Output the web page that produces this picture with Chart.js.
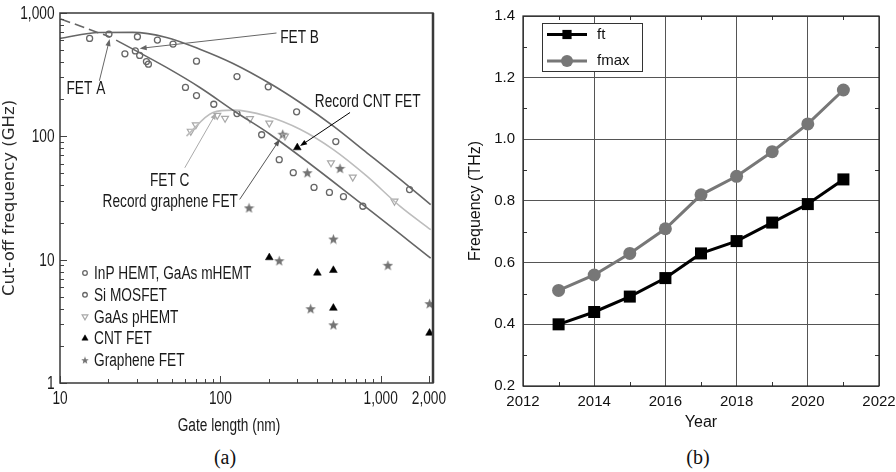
<!DOCTYPE html>
<html>
<head>
<meta charset="utf-8">
<script src="https://cdn.jsdelivr.net/npm/chart.js@4.4.1/dist/chart.umd.min.js"></script>
<style>
body { margin: 0; background: #fff; }
#wrap { position: relative; width: 896px; height: 472px; overflow: hidden; background: #fff; }
#wrap canvas { position: absolute; top: 0; }
.cap { position: absolute; top: 446px; width: 60px; text-align: center; font: 20px 'Liberation Serif', serif; color: #111; }
</style>
</head>
<body>
<div id="wrap">
  <canvas id="chartA" width="448" height="440" style="left:0"></canvas>
  <canvas id="chartB" width="448" height="440" style="left:448px"></canvas>
  <div class="cap" style="left:195px">(a)</div>
  <div class="cap" style="left:668px">(b)</div>
</div>
<script>
// the left panel uses a condensed face; no narrow font is installed, so text is squeezed by hand
const NARROW_FONT = "18px 'Liberation Sans', Arial, sans-serif";
const SQUEEZE = 0.76;
const SANS = "'Liberation Sans', Arial, sans-serif";

// ---------- (a) cut-off frequency vs gate length ----------
const inpX = [15.3, 20.2, 30.4, 40.5, 50.7, 71, 127, 199, 299, 525, 1514];
const inpY = [622, 675, 642, 603, 560, 407, 305, 252, 158, 90.6, 37];
const siX = [25.4, 29.5, 31.4, 34.6, 35.6, 60.6, 71, 91, 127, 181, 233, 285, 384, 479, 586, 774];
const siY = [467, 493, 453, 404, 385, 249, 214, 182, 153, 103, 64.7, 50.7, 38.5, 35.1, 32.4, 27.1];
const gaasX = [65.4, 70.3, 95.7, 107, 153, 202, 253, 490, 670, 1219];
const gaasY = [110, 124, 148, 140, 139, 128, 100.5, 61, 46.7, 29.8];
const cntX = [202, 302, 403, 507, 507, 2018];
const cntY = [10.4, 81, 7.8, 8.2, 4.05, 2.54];
const grX = [151, 245, 233, 349, 558, 507, 366, 507, 1109, 2018];
const grY = [26.3, 104, 9.8, 50.7, 55, 14.7, 4.0, 2.96, 9.0, 4.4];

// trend curves
const upperX = [10, 17.6, 28.4, 46.1, 74.5, 120, 204, 314, 507, 820, 1324, 2050];
const upperY = [622, 695, 697, 634, 509, 390, 268, 188, 121, 73.6, 44.7, 28];
const lowerDashX = [10.1, 20.5];
const lowerDashY = [894, 640];
const lowerX = [22.4, 46.1, 74.5, 126, 204, 820, 2050];
const lowerY = [603, 362, 249, 156, 104, 26.3, 10.3];
const gaasCurveX = [61.5, 90, 120, 194, 314, 507, 820, 1324, 2050];
const gaasCurveY = [100.5, 156, 163, 146, 114, 78, 47.5, 27, 17.5];

const xMajorTicks = [10, 100, 1000, 2000];
const xMajorLabels = ['10', '100', '1,000', '2,000'];
const yMajorTicks = [1, 10, 100, 1000];
const yMajorLabels = ['1', '10', '100', '1,000'];
const xTitleA = 'Gate length (nm)';

// annotations (data units)
const noteLabels = ['FET A', 'FET B', 'FET C', 'Record graphene FET', 'Record CNT FET'];
const noteTextX = [14.5, 312, 48.3, 48.7, 830];
const noteTextY = [241, 632, 43.5, 29.3, 190];
const noteFromX = [17.6, 224, 60, 132, 644];
const noteFromY = [282, 688, 55.6, 30.8, 156];
const noteToX = [20.4, 31.4, 94.6, 235, 314];
const noteToY = [615, 516, 156, 94.6, 83.4];
const noteColors = ['#666', '#666', '#aaa', '#555', '#000'];

// ---------- (b) ft / fmax by year ----------
const years = [2013, 2014, 2015, 2016, 2017, 2018, 2019, 2020, 2021];
const ft = [0.40, 0.44, 0.49, 0.55, 0.63, 0.67, 0.73, 0.79, 0.87];
const fmax = [0.51, 0.56, 0.63, 0.71, 0.82, 0.88, 0.96, 1.05, 1.16];
const xTicksB = [2012, 2014, 2016, 2018, 2020, 2022];
const xLabelsB = ['2012', '2014', '2016', '2018', '2020', '2022'];
const xMinorB = [2013, 2015, 2017, 2019, 2021];
const yTicksB = [0.2, 0.4, 0.6, 0.8, 1.0, 1.2, 1.4];
const yLabelsB = ['0.2', '0.4', '0.6', '0.8', '1.0', '1.2', '1.4'];
const yMinorB = [0.3, 0.5, 0.7, 0.9, 1.1, 1.3];

const pts = (xs, ys) => xs.map((x, i) => ({ x: x, y: ys[i] }));

function makeStar(size, color) {
  const c = document.createElement('canvas');
  c.width = size; c.height = size;
  const g = c.getContext('2d');
  const r = size / 2, ri = r * 0.42;
  g.beginPath();
  for (let k = 0; k < 10; k++) {
    const rad = k % 2 === 0 ? r : ri;
    const a = -Math.PI / 2 + k * Math.PI / 5;
    g.lineTo(r + rad * Math.cos(a), r * 1.08 + rad * Math.sin(a));
  }
  g.closePath();
  g.fillStyle = color;
  g.fill();
  return c;
}
const starImg = makeStar(11, '#737373');
const starSmall = makeStar(8, '#737373');

function curve(data, color, dash) {
  return {
    data: data, showLine: true, pointRadius: 0, borderColor: color, borderWidth: 1.6,
    borderDash: dash || [], cubicInterpolationMode: 'monotone', fill: false, legend: false
  };
}

function arrow(ctx, x1, y1, x2, y2, color) {
  const ang = Math.atan2(y2 - y1, x2 - x1);
  ctx.strokeStyle = color; ctx.fillStyle = color; ctx.lineWidth = 1;
  ctx.beginPath(); ctx.moveTo(x1, y1); ctx.lineTo(x2 - 3 * Math.cos(ang), y2 - 3 * Math.sin(ang)); ctx.stroke();
  ctx.beginPath();
  ctx.moveTo(x2, y2);
  ctx.lineTo(x2 - 7 * Math.cos(ang) + 2.6 * Math.sin(ang), y2 - 7 * Math.sin(ang) - 2.6 * Math.cos(ang));
  ctx.lineTo(x2 - 7 * Math.cos(ang) - 2.6 * Math.sin(ang), y2 - 7 * Math.sin(ang) + 2.6 * Math.cos(ang));
  ctx.closePath(); ctx.fill();
}

function narrowText(ctx, txt, x, y, align) {
  ctx.save();
  ctx.translate(x, y);
  ctx.scale(SQUEEZE, 1);
  ctx.font = NARROW_FONT;
  ctx.textAlign = align;
  ctx.textBaseline = 'middle';
  ctx.fillStyle = '#1a1a1a';
  ctx.fillText(txt, 0, 0);
  ctx.restore();
}

const isDecadeTick = v => {
  const e = Math.floor(Math.log10(v) + 1e-9);
  const s = v / Math.pow(10, e);
  return Math.abs(s - Math.round(s)) < 1e-6;
};

const decorA = {
  id: 'decorA',
  afterDatasetsDraw(chart) {
    const { ctx, chartArea: a, scales: { x, y } } = chart;
    ctx.save();
    // inward ticks
    ctx.strokeStyle = '#444'; ctx.lineWidth = 1;
    x.ticks.forEach(t => {
      if (!isDecadeTick(t.value)) return;
      const px = Math.round(x.getPixelForValue(t.value)) + 0.5;
      const len = xMajorTicks.includes(t.value) ? 7 : 4;
      ctx.beginPath(); ctx.moveTo(px, a.bottom); ctx.lineTo(px, a.bottom - len); ctx.stroke();
    });
    y.ticks.forEach(t => {
      if (!isDecadeTick(t.value)) return;
      const py = Math.round(y.getPixelForValue(t.value)) + 0.5;
      const len = yMajorTicks.includes(t.value) ? 7 : 4;
      ctx.beginPath(); ctx.moveTo(a.left, py); ctx.lineTo(a.left + len, py); ctx.stroke();
    });
    // frame
    ctx.strokeStyle = '#3a3a3a'; ctx.lineWidth = 1.5;
    ctx.strokeRect(a.left, a.top, a.right - a.left, a.bottom - a.top);
    ctx.lineWidth = 2.5;
    ctx.beginPath(); ctx.moveTo(a.right, a.top); ctx.lineTo(a.right, a.bottom); ctx.stroke();

    // tick labels
    xMajorTicks.forEach((v, i) => narrowText(ctx, xMajorLabels[i], x.getPixelForValue(v), a.bottom + 16, 'center'));
    yMajorTicks.forEach((v, i) => narrowText(ctx, yMajorLabels[i], a.left - 5.5, y.getPixelForValue(v) + 1, 'right'));

    // annotations
    noteLabels.forEach((txt, i) => {
      arrow(ctx, x.getPixelForValue(noteFromX[i]), y.getPixelForValue(noteFromY[i]),
        x.getPixelForValue(noteToX[i]), y.getPixelForValue(noteToY[i]), noteColors[i]);
      narrowText(ctx, txt, x.getPixelForValue(noteTextX[i]), y.getPixelForValue(noteTextY[i]), 'center');
    });

    // legend
    const items = chart.data.datasets.filter(d => d.legend);
    items.forEach((d, i) => {
      const ly = 273 + i * 21.8;
      ctx.fillStyle = d.legendFill; ctx.strokeStyle = d.pointBorderColor;
      ctx.lineWidth = d.pointBorderWidth;
      Chart.helpers.drawPoint(ctx, {
        pointStyle: d.pointStyle === starImg ? starSmall : d.pointStyle,
        radius: d.legendRadius, rotation: d.pointRotation || 0, borderWidth: d.pointBorderWidth
      }, 85, ly);
      narrowText(ctx, d.label, 94, ly + 1, 'left');
    });

    // x title
    narrowText(ctx, xTitleA, 229, 426, 'center');
    ctx.restore();
  }
};

new Chart(document.getElementById('chartA'), {
  type: 'scatter',
  data: {
    datasets: [
      curve(pts(upperX, upperY), '#666'),
      curve(pts(lowerDashX, lowerDashY), '#666', [10, 5]),
      curve(pts(lowerX, lowerY), '#666'),
      curve(pts(gaasCurveX, gaasCurveY), '#bdbdbd'),
      { label: 'InP HEMT, GaAs mHEMT', data: pts(inpX, inpY), legend: true, pointStyle: 'circle', pointRadius: 3,
        pointBorderColor: '#666', pointBackgroundColor: 'rgba(0,0,0,0)', pointBorderWidth: 1.3,
        legendFill: 'rgba(0,0,0,0)', legendRadius: 2.3 },
      { label: 'Si MOSFET', data: pts(siX, siY), legend: true, pointStyle: 'circle', pointRadius: 3,
        pointBorderColor: '#666', pointBackgroundColor: 'rgba(0,0,0,0)', pointBorderWidth: 1.3,
        legendFill: 'rgba(0,0,0,0)', legendRadius: 2.3 },
      { label: 'GaAs pHEMT', data: pts(gaasX, gaasY), legend: true, pointStyle: 'triangle', pointRotation: 180,
        pointRadius: 4, pointBorderColor: '#a8a8a8', pointBackgroundColor: 'rgba(0,0,0,0)', pointBorderWidth: 1.2,
        legendFill: 'rgba(0,0,0,0)', legendRadius: 3.3 },
      { label: 'CNT FET', data: pts(cntX, cntY), legend: true, pointStyle: 'triangle', pointRadius: 4.5,
        pointBorderColor: '#000', pointBackgroundColor: '#000', pointBorderWidth: 0.5,
        legendFill: '#000', legendRadius: 3.6 },
      { label: 'Graphene FET', data: pts(grX, grY), legend: true, pointStyle: starImg, pointRadius: 5,
        pointBorderColor: '#737373', pointBackgroundColor: '#737373', pointBorderWidth: 0,
        legendFill: '#737373', legendRadius: 4 }
    ]
  },
  options: {
    responsive: false, animation: false, events: [],
    layout: { padding: { top: 13, right: 15, left: 0, bottom: 0 } },
    plugins: { legend: { display: false }, tooltip: { enabled: false } },
    scales: {
      x: {
        type: 'logarithmic', min: 10, max: 2120,
        grid: { display: false, drawTicks: false }, border: { display: false },
        ticks: { display: false },
        afterFit: s => { s.height = 57; s.paddingLeft = 0; s.paddingRight = 0; }
      },
      y: {
        type: 'logarithmic', min: 1, max: 1000,
        grid: { display: false, drawTicks: false }, border: { display: false },
        ticks: { display: false },
        title: { display: true, text: 'Cut-off frequency (GHz)', color: '#2a2a2a',
          font: { family: "'DejaVu Sans', sans-serif", size: 16.5 }, padding: { top: 0, bottom: 0 } },
        afterFit: s => { s.width = 60; s.paddingTop = 0; s.paddingBottom = 0; }
      }
    }
  },
  plugins: [decorA]
});

const decorB = {
  id: 'decorB',
  afterDatasetsDraw(chart) {
    const { ctx, chartArea: a, scales: { x, y } } = chart;
    ctx.save();
    ctx.strokeStyle = '#333'; ctx.lineWidth = 1;
    xMinorB.forEach(v => {
      const px = Math.round(x.getPixelForValue(v)) + 0.5;
      ctx.beginPath(); ctx.moveTo(px, a.bottom); ctx.lineTo(px, a.bottom - 4);
      ctx.moveTo(px, a.top); ctx.lineTo(px, a.top + 4); ctx.stroke();
    });
    yMinorB.forEach(v => {
      const py = Math.round(y.getPixelForValue(v)) + 0.5;
      ctx.beginPath(); ctx.moveTo(a.left, py); ctx.lineTo(a.left + 4, py);
      ctx.moveTo(a.right, py); ctx.lineTo(a.right - 4, py); ctx.stroke();
    });
    ctx.strokeStyle = '#222'; ctx.lineWidth = 1.2;
    ctx.strokeRect(a.left, a.top, a.right - a.left, a.bottom - a.top);

    // legend box
    ctx.fillStyle = '#fff';
    ctx.fillRect(94, 23, 100, 49);
    ctx.strokeStyle = '#333'; ctx.lineWidth = 1;
    ctx.strokeRect(94.5, 23.5, 100, 48);
    ctx.font = '15px ' + SANS; ctx.textBaseline = 'middle'; ctx.textAlign = 'left';
    chart.data.datasets.forEach((d, i) => {
      const ly = i === 0 ? 34.5 : 61;
      ctx.strokeStyle = d.borderColor; ctx.lineWidth = d.borderWidth;
      ctx.beginPath(); ctx.moveTo(99, ly); ctx.lineTo(139, ly); ctx.stroke();
      ctx.fillStyle = d.pointBackgroundColor;
      Chart.helpers.drawPoint(ctx, { pointStyle: d.pointStyle, radius: d.legendRadius, rotation: 0, borderWidth: 0 }, 119, ly);
      ctx.fillStyle = '#111';
      ctx.fillText(d.label, 149, ly);
    });
    ctx.restore();
  }
};

new Chart(document.getElementById('chartB'), {
  type: 'scatter',
  data: {
    datasets: [
      { label: 'ft', data: pts(years, ft), showLine: true, borderColor: '#000', borderWidth: 3,
        pointStyle: 'rect', pointRadius: 8.5, pointBackgroundColor: '#000', pointBorderWidth: 0, legendRadius: 6.5 },
      { label: 'fmax', data: pts(years, fmax), showLine: true, borderColor: '#777', borderWidth: 3,
        pointStyle: 'circle', pointRadius: 6.5, pointBackgroundColor: '#777', pointBorderWidth: 0, legendRadius: 6 }
    ]
  },
  options: {
    responsive: false, animation: false, events: [],
    layout: { padding: { top: 16, right: 17, left: 0, bottom: 0 } },
    plugins: { legend: { display: false }, tooltip: { enabled: false } },
    scales: {
      x: {
        type: 'linear', min: 2012, max: 2022,
        afterBuildTicks: s => { s.ticks = xTicksB.map(v => ({ value: v })); },
        grid: { color: '#555', lineWidth: 1, drawTicks: false }, border: { display: false },
        ticks: { autoSkip: false, maxRotation: 0, padding: 7, color: '#111', font: { family: SANS, size: 15 },
          callback: (v, i) => xLabelsB[i] },
        title: { display: true, text: 'Year', color: '#111', font: { family: SANS, size: 16 }, padding: { top: 0, bottom: 8 } },
        afterFit: s => { s.height = 54; s.paddingLeft = 0; s.paddingRight = 0; }
      },
      y: {
        type: 'linear', min: 0.2, max: 1.4,
        afterBuildTicks: s => { s.ticks = yTicksB.map(v => ({ value: v })); },
        grid: { color: '#555', lineWidth: 1, drawTicks: false }, border: { display: false },
        ticks: { autoSkip: false, padding: 8, color: '#111', font: { family: SANS, size: 15 },
          callback: (v, i) => yLabelsB[i] },
        title: { display: true, text: 'Frequency (THz)', color: '#111', font: { family: SANS, size: 16 }, padding: { top: 18, bottom: 0 } },
        afterFit: s => { s.width = 75; s.paddingTop = 0; s.paddingBottom = 0; }
      }
    }
  },
  plugins: [decorB]
});
</script>
</body>
</html>
